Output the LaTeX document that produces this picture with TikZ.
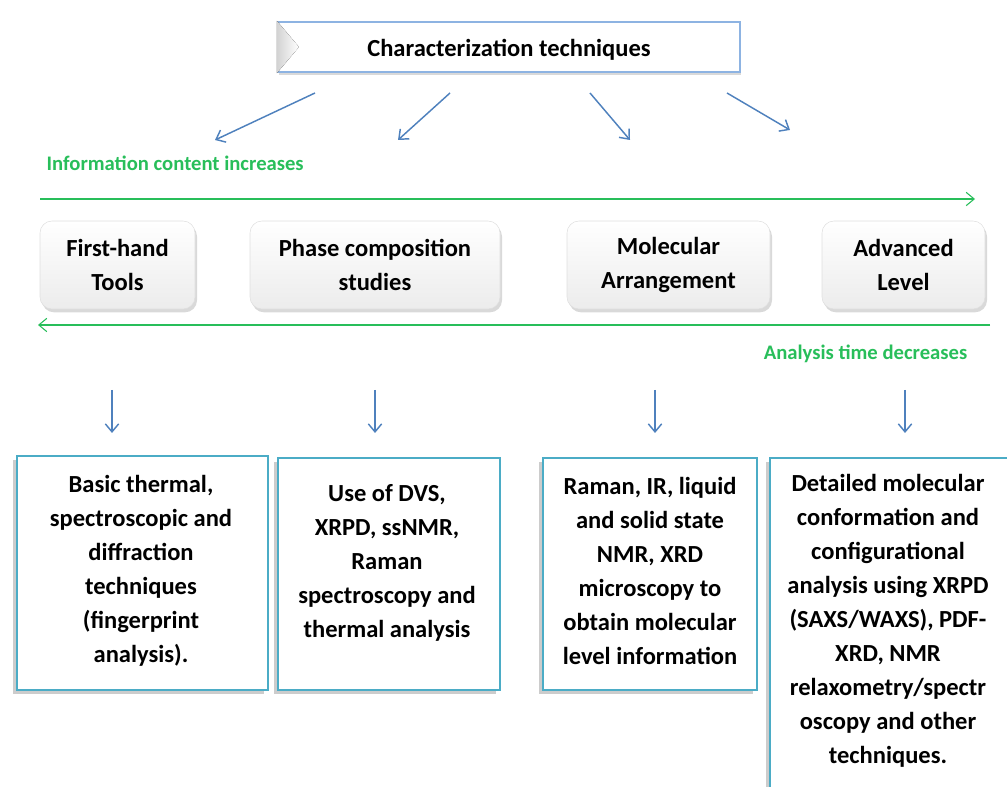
\documentclass[tikz,border=0pt]{standalone}
\usepackage{fontspec}
\setmainfont{Carlito}
\usetikzlibrary{shadows}
\usetikzlibrary{calc}
\usetikzlibrary{arrows.meta}

\def\px{0.75pt}  % one pixel of the layout grid
\definecolor{arrowblue}{RGB}{79,129,189}
\definecolor{trendgreen}{RGB}{40,190,90}
\definecolor{boxteal}{RGB}{75,172,198}
\definecolor{titleblue}{RGB}{141,179,226}

\begin{document}
\begin{tikzpicture}[x=\px, y=-\px,
  every node/.style={font=\bfseries\fontsize{18.4}{25.5}\selectfont, align=center},
  titlebox/.style={draw=titleblue, line width=1.6pt, fill=white,
    drop shadow={shadow xshift=1pt, shadow yshift=-2.5pt, opacity=0.3}},
  headbox/.style={rounded corners=9pt, draw=gray!25, top color=white, bottom color=gray!15,
    drop shadow={shadow xshift=1.5pt, shadow yshift=-2.5pt, opacity=0.3}},
  techbox/.style={draw=boxteal, line width=2.2pt, fill=white,
    drop shadow={shadow xshift=-3pt, shadow yshift=-3pt, opacity=0.4}},
  bluearrow/.style={arrowblue, line width=1.1pt, -{Straight Barb[length=6pt, width=10pt]}},
  trend/.style={trendgreen, line width=0.8pt, -{Straight Barb[length=6pt, width=10pt]}},
  trendlabel/.style={font=\bfseries\fontsize{15.5}{18}\selectfont, text=trendgreen},
]

\useasboundingbox (0,0) rectangle (1007,787);

%─────────────
% Title
%─────────────
\node[titlebox, minimum width=462*\px, minimum height=50*\px] (title) at (509,47) {};
\fill[left color=gray!35, right color=white]
  (title.north west) -- ($(title.west)+(22,0)$) -- (title.south west) -- cycle;
\node (titletext) at (509,50) {Characterization techniques};

% arrows fanning out from the title
\coordinate (f1s) at (315,93);  \coordinate (f1e) at (215,140);
\coordinate (f2s) at (450,93);  \coordinate (f2e) at (398,140);
\coordinate (f3s) at (590,93);  \coordinate (f3e) at (630,140);
\coordinate (f4s) at (727,93);  \coordinate (f4e) at (790,130);
\foreach \i in {1,...,4} {
  \draw[bluearrow] (f\i s) -- (f\i e);
}

%─────────────
% Trends
%─────────────
\node[trendlabel, anchor=west] (infolabel) at (42,163) {Information content increases};
\coordinate (infoL) at (40,199);
\coordinate (infoR) at (975,199);
\draw[trend] (infoL) -- (infoR);

\coordinate (timeR) at (990,325);
\coordinate (timeL) at (38,325);
\draw[trend] (timeR) -- (timeL);
\node[trendlabel, anchor=east] (timelabel) at (972,354) {Analysis time decreases};

%─────────────
% Levels
%─────────────
\node[headbox, minimum width=155*\px, minimum height=88*\px] (h1) at (117.5,265) {First-hand\\Tools};
\node[headbox, minimum width=250*\px, minimum height=88*\px] (h2) at (375,265) {Phase composition\\studies};
\node[headbox, minimum width=203*\px, minimum height=88*\px] (h3) at (668.5,265) {Molecular\\Arrangement};
\node[headbox, minimum width=163*\px, minimum height=88*\px] (h4) at (903.5,265) {Advanced\\Level};

% down arrows
\foreach \i/\x in {1/112, 2/375, 3/655, 4/905} {
  \coordinate (d\i s) at (\x,390);
  \coordinate (d\i e) at (\x,433);
  \draw[bluearrow] (d\i s) -- (d\i e);
}

%─────────────
% Techniques
%─────────────
\node[techbox, minimum width=251*\px, minimum height=234*\px] (c1) at (142.5,573) {};
\node[techbox, minimum width=222*\px, minimum height=232*\px] (c2) at (389,574) {};
\node[techbox, minimum width=214*\px, minimum height=232*\px] (c3) at (650,574) {};
\node[techbox, minimum width=242*\px, minimum height=342*\px] (c4) at (891,629) {};

\node (t1) at (141,571) {Basic thermal,\\spectroscopic and\\diffraction\\techniques\\(fingerprint\\analysis).};
\node (t2) at (387,563) {Use of DVS,\\XRPD, ssNMR,\\Raman\\spectroscopy and\\thermal analysis};
\node (t3) at (650,571) {Raman, IR, liquid\\and solid state\\NMR, XRD\\microscopy to\\obtain molecular\\level information};
\node (t4) at (888,621) {Detailed molecular\\conformation and\\configurational\\analysis using XRPD\\(SAXS/WAXS), PDF-\\XRD, NMR\\relaxometry/spectr\\oscopy and other\\techniques.};

\end{tikzpicture}
\end{document}
